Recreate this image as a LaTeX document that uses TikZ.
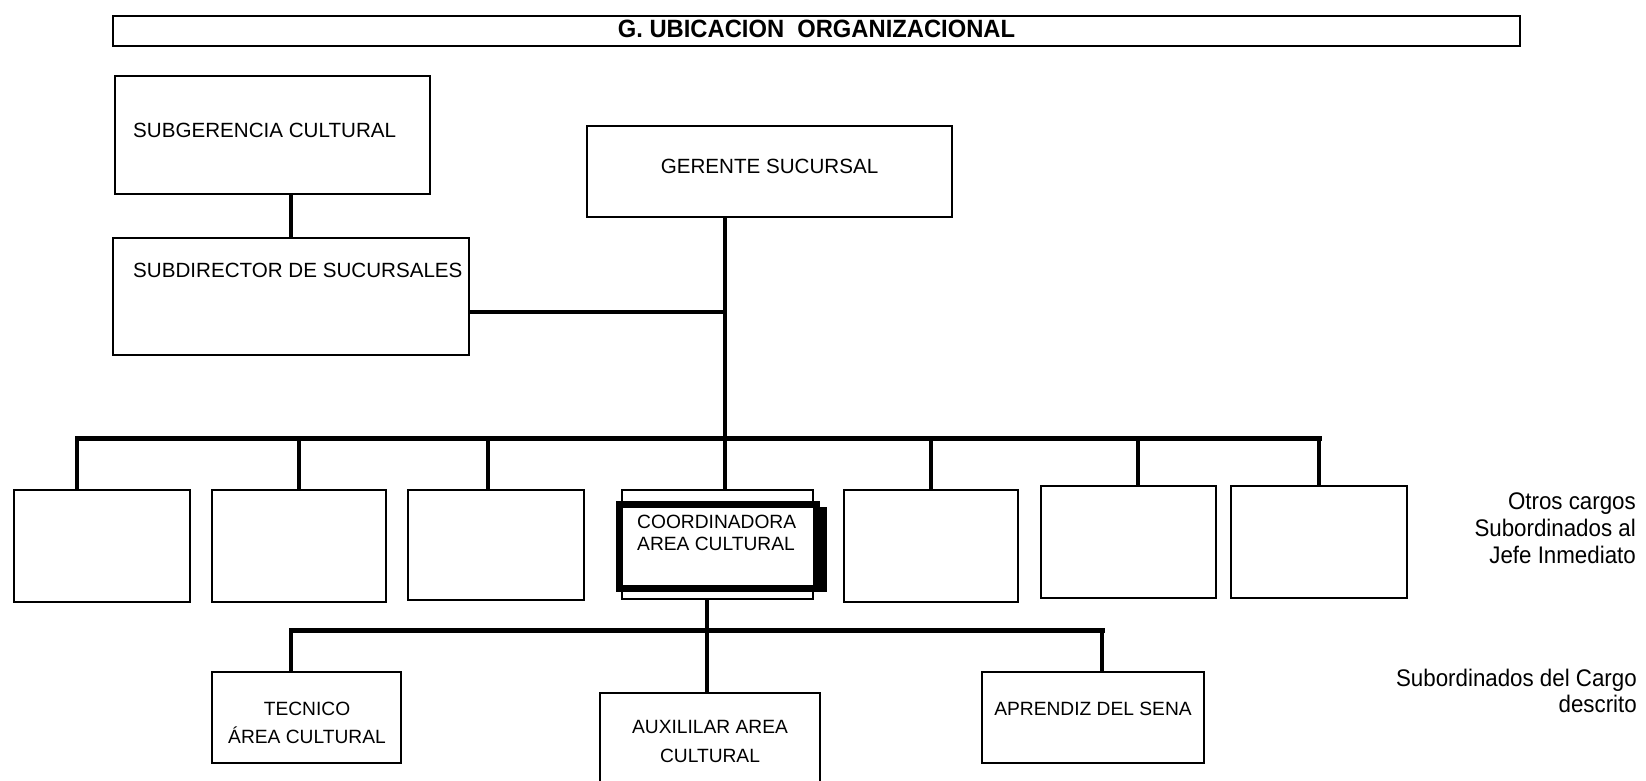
\documentclass[tikz,border=0pt]{standalone}
\usepackage{fontspec}
\setmainfont{Liberation Sans}
\newfontfamily\titlefont{Liberation Sans}[FakeStretch=0.95]
\newfontfamily\notefont{Liberation Sans}[FakeStretch=0.93]
\newcommand{\upsize}{\fontsize{20.6pt}{24pt}\selectfont}
\newcommand{\lowsize}{\fontsize{19.2pt}{23pt}\selectfont}
\begin{document}
\begin{tikzpicture}[x=1pt,y=-1pt,
  box/.style={draw, line width=2pt, anchor=north west, inner sep=0pt, outer sep=0pt},
  bus/.style={line width=5pt, line cap=rect},
  drop/.style={line width=3.8pt},
  upper/.style={inner sep=0pt, font=\upsize},
  lower/.style={inner sep=0pt, font=\lowsize},
  note/.style={inner sep=0pt, anchor=base east, font=\notefont\fontsize{24pt}{28pt}\selectfont}]
\useasboundingbox (0,0) rectangle (1646,780);
\clip (0,0) rectangle (1646,780);
\fill[white] (0,0) rectangle (1646,780);

% heading
\node[box, line width=2.5pt, minimum width=1407pt, minimum height=30pt] (title) at (113,16) {};
\node[inner sep=0pt, anchor=base, font=\titlefont\bfseries\fontsize{25pt}{28pt}\selectfont] (titletext) at (816.5,37) {G. UBICACION\ \ ORGANIZACIONAL};

% upper levels
\node[box, minimum width=315pt, minimum height=118pt] (sub) at (115,76) {};
\node[upper, anchor=base west] (subtext) at (133,137) {SUBGERENCIA CULTURAL};
\node[box, minimum width=356pt, minimum height=117pt] (dir) at (113,238) {};
\node[upper, anchor=base west] (dirtext) at (133,277) {SUBDIRECTOR DE SUCURSALES};
\node[box, minimum width=365pt, minimum height=91pt] (ger) at (587,126) {};
\node[upper, anchor=base] (gertext) at (769.5,173) {GERENTE SUCURSAL};

% row of positions under the branch manager
\node[box, minimum width=176pt, minimum height=112pt] (b1) at (14,490) {};
\node[box, minimum width=174pt, minimum height=112pt] (b2) at (212,490) {};
\node[box, minimum width=176pt, minimum height=110pt] (b3) at (408,490) {};
\node[box, minimum width=191pt, minimum height=109pt] (b4) at (622,490) {};
\node[box, minimum width=174pt, minimum height=112pt] (b5) at (844,490) {};
\node[box, minimum width=175pt, minimum height=112pt] (b6) at (1041,486) {};
\node[box, minimum width=176pt, minimum height=112pt] (b7) at (1231,486) {};

% highlighted position: heavy frame with a dark edge on its right
\node[draw, fill=white, line width=7pt, anchor=north west, inner sep=0pt, outer sep=0pt,
      minimum width=197pt, minimum height=84pt] (cf) at (619.5,504) {};
\fill ([xshift=0pt,yshift=-3pt]cf.north east) rectangle ([xshift=10.5pt,yshift=-3.5pt]cf.south east);
\node[lower, anchor=base west] (cftext1) at (637,528) {COORDINADORA};
\node[lower, anchor=base west] (cftext2) at (637,550) {AREA CULTURAL};

% subordinates
\node[box, minimum width=189pt, minimum height=91pt] (tec) at (212,672) {};
\node[lower, anchor=base] (tectext1) at (307,715) {TECNICO};
\node[lower, anchor=base] (tectext2) at (307,743) {ÁREA CULTURAL};
\node[box, minimum width=220pt, minimum height=110pt] (aux) at (600,693) {};
\node[lower, anchor=base] (auxtext1) at (710,733) {AUXILILAR AREA};
\node[lower, anchor=base] (auxtext2) at (710,762) {CULTURAL};
\node[box, minimum width=222pt, minimum height=91pt] (apr) at (982,672) {};
\node[lower, anchor=base] (aprtext) at (1093,715) {APRENDIZ DEL SENA};

% side notes
\node[note] (n1) at (1636,509) {Otros cargos};
\node[note] (n2) at (1636,536) {Subordinados al};
\node[note] (n3) at (1636,563) {Jefe Inmediato};
\node[note] (n4) at (1637,686) {Subordinados del Cargo};
\node[note] (n5) at (1637,712) {descrito};

% junction points
\coordinate (j1) at (291,0);
\coordinate (gx) at (725,0);
\coordinate (hj) at (725,312);
\coordinate (d1) at (77,438);
\coordinate (d2) at (299,438);
\coordinate (d3) at (488,438);
\coordinate (d4) at (725,438);
\coordinate (d5) at (931,438);
\coordinate (d6) at (1138,438);
\coordinate (d7) at (1319,438);
\coordinate (e1) at (291,630);
\coordinate (e2) at (707,630);
\coordinate (e3) at (1102,630);

% connectors
\draw[line width=4.3pt] (sub.south -| j1) -- (dir.north -| j1);
\draw[line width=3.5pt] (ger.south -| gx) -- (d4);
\draw[line width=4pt] (dir.east |- hj) -- (hj);
\draw[bus] (d1) -- (d7);
\foreach \b/\d in {b1/d1,b2/d2,b3/d3,b4/d4,b5/d5,b6/d6,b7/d7}
  \draw[drop] (\d) -- (\b.north -| \d);
\draw[line width=3.5pt] (b4.south -| e2) -- (aux.north -| e2);
\draw[bus] (e1) -- (e3);
\draw[drop] (e1) -- (tec.north -| e1);
\draw[drop] (e3) -- (apr.north -| e3);
\end{tikzpicture}
\end{document}
